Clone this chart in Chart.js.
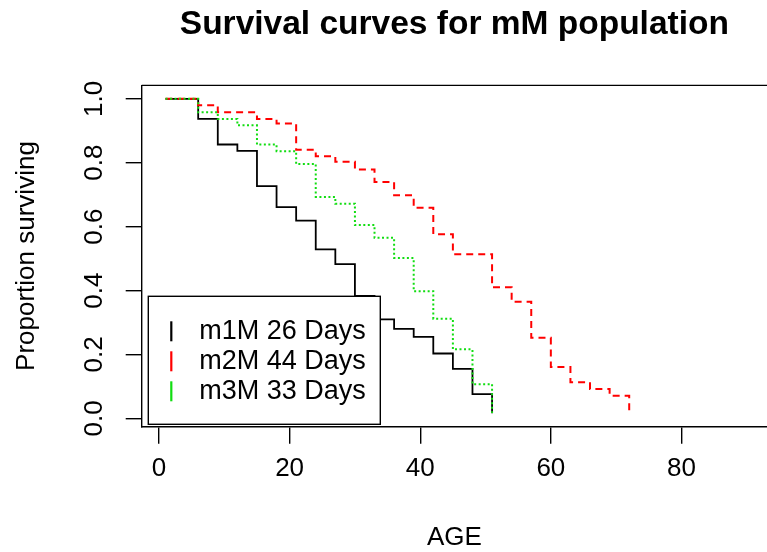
<!DOCTYPE html>
<html>
<head>
<meta charset="utf-8">
<title>Survival curves</title>
<script src="https://cdn.jsdelivr.net/npm/chart.js@4.4.1/dist/chart.umd.min.js"></script>
<style>
  html, body { margin: 0; padding: 0; background: #fff; }
</style>
</head>
<body>
<canvas id="survChart" width="767" height="552"></canvas>
<script>
const FONT = "'Liberation Sans', Arial, sans-serif";

// life table survivorship, proportion alive at each age
const m1mAge = [1, 6, 9, 12, 15, 18, 21, 24, 27, 30, 33, 36, 39, 42, 45, 48, 51];
const m1mSurv = [1.0, 0.937, 0.857, 0.837, 0.727, 0.661, 0.619, 0.529, 0.483, 0.383, 0.31, 0.28, 0.255, 0.203, 0.155, 0.076, 0.016];

const m2mAge = [1, 6, 9, 15, 18, 21, 24, 27, 30, 33, 36, 39, 42, 45, 51, 54, 57, 60, 63, 66, 69, 72];
const m2mSurv = [1.0, 0.98, 0.958, 0.937, 0.923, 0.841, 0.82, 0.803, 0.779, 0.74, 0.698, 0.659, 0.576, 0.514, 0.41, 0.365, 0.252, 0.161, 0.113, 0.092, 0.071, 0.016];

const m3mAge = [1, 6, 9, 12, 15, 18, 21, 24, 27, 30, 33, 36, 39, 42, 45, 48, 51];
const m3mSurv = [1.0, 0.958, 0.937, 0.917, 0.857, 0.836, 0.796, 0.693, 0.672, 0.605, 0.565, 0.502, 0.398, 0.312, 0.216, 0.107, 0.017];

const seriesNames = ["m1M 26 Days", "m2M 44 Days", "m3M 33 Days"];
const seriesColors = ["#000000", "#ff0000", "#11dd11"];

const xTicks = [0, 20, 40, 60, 80];
const yTicks = [0, 0.2, 0.4, 0.6, 0.8, 1.0];
const yTickLabels = ["0.0", "0.2", "0.4", "0.6", "0.8", "1.0"];

const toPoints = (ages, surv) => ages.map((a, i) => ({ x: a, y: surv[i] }));

// base R look: top edge of the box, upright y labels and a boxed legend
const rStylePlugin = {
  id: "rStyle",
  afterDraw(chart) {
    const { ctx, chartArea, scales } = chart;
    ctx.save();
    ctx.strokeStyle = "#000";
    ctx.lineWidth = 1.4;
    ctx.beginPath();
    ctx.moveTo(chartArea.left, chartArea.top);
    ctx.lineTo(chartArea.right, chartArea.top);
    ctx.stroke();

    ctx.font = `26px ${FONT}`;
    ctx.fillStyle = "#000";
    ctx.textAlign = "center";
    ctx.textBaseline = "alphabetic";
    scales.y.ticks.forEach((t, i) => {
      const y = scales.y.getPixelForValue(t.value);
      ctx.save();
      ctx.translate(chartArea.left - 40, y);
      ctx.rotate(-Math.PI / 2);
      ctx.fillText(yTickLabels[i], 0, 0);
      ctx.restore();
    });

    // legend box in the lower left corner
    const boxW = 232;
    const boxH = 128;
    const boxL = chartArea.left + 6.6;
    const boxT = chartArea.bottom - 2.4 - boxH;
    ctx.fillStyle = "#fff";
    ctx.fillRect(boxL, boxT, boxW, boxH);
    ctx.strokeStyle = "#000";
    ctx.lineWidth = 1.4;
    ctx.strokeRect(boxL, boxT, boxW, boxH);
    ctx.font = `27px ${FONT}`;
    ctx.textAlign = "left";
    ctx.textBaseline = "middle";
    seriesNames.forEach((name, i) => {
      const cy = boxT + 35 + i * 30;
      ctx.strokeStyle = seriesColors[i];
      ctx.lineWidth = 2.2;
      ctx.beginPath();
      ctx.moveTo(boxL + 23, cy - 10);
      ctx.lineTo(boxL + 23, cy + 10);
      ctx.stroke();
      ctx.fillStyle = "#000";
      ctx.fillText(name, boxL + 51, cy);
    });
    ctx.restore();
  },
};

new Chart(document.getElementById("survChart"), {
  type: "line",
  data: {
    datasets: [
      {
        label: seriesNames[0],
        data: toPoints(m1mAge, m1mSurv),
        borderColor: seriesColors[0],
        borderWidth: 1.8,
        order: 3,
      },
      {
        label: seriesNames[1],
        data: toPoints(m2mAge, m2mSurv),
        borderColor: seriesColors[1],
        borderWidth: 2,
        borderDash: [7, 5],
        order: 2,
      },
      {
        label: seriesNames[2],
        data: toPoints(m3mAge, m3mSurv),
        borderColor: seriesColors[2],
        borderWidth: 2,
        borderDash: [2, 2.5],
        order: 1,
      },
    ],
  },
  options: {
    responsive: false,
    animation: false,
    layout: { padding: 0 },
    elements: {
      line: { stepped: "before", fill: false, tension: 0 },
      point: { radius: 0, hoverRadius: 0 },
    },
    plugins: {
      legend: { display: false },
      tooltip: { enabled: false },
      title: {
        display: true,
        text: "Survival curves for mM population",
        fullSize: false,
        color: "#000",
        font: { family: FONT, size: 33.5, weight: "bold", lineHeight: 1 },
        padding: { top: 7.6, bottom: 44.3 },
      },
    },
    scales: {
      x: {
        type: "linear",
        min: -2.65,
        max: 93.1,
        afterBuildTicks: (scale) => {
          scale.ticks = xTicks.map((v) => ({ value: v }));
        },
        afterFit: (scale) => {
          scale.height = 125.3;
        },
        grid: { drawOnChartArea: false, drawTicks: true, tickLength: 17, color: "#000", lineWidth: 1.4 },
        border: { display: true, color: "#000", width: 1.4 },
        ticks: {
          autoSkip: false,
          maxRotation: 0,
          padding: 12,
          color: "#000",
          font: { family: FONT, size: 26, lineHeight: 1 },
        },
        title: {
          display: true,
          text: "AGE",
          color: "#000",
          font: { family: FONT, size: 26, lineHeight: 1 },
          padding: { top: 0, bottom: 1 },
        },
      },
      y: {
        type: "linear",
        min: -0.026,
        max: 1.042,
        afterBuildTicks: (scale) => {
          scale.ticks = yTicks.map((v) => ({ value: v }));
        },
        afterFit: (scale) => {
          scale.width = 141.7;
        },
        grid: { drawOnChartArea: false, drawTicks: true, tickLength: 16, color: "#000", lineWidth: 1.4 },
        border: { display: true, color: "#000", width: 1.4 },
        ticks: { display: false },
        title: {
          display: true,
          text: "Proportion surviving",
          color: "#000",
          font: { family: FONT, size: 26, lineHeight: 1 },
          padding: { top: 14, bottom: 0 },
        },
      },
    },
  },
  plugins: [rStylePlugin],
});
</script>
</body>
</html>
